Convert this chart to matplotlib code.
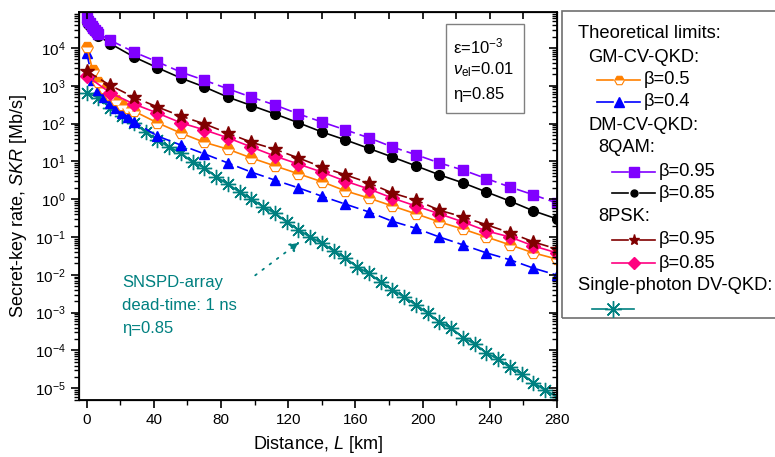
import matplotlib
matplotlib.use('Agg')
import matplotlib.pyplot as plt
from matplotlib.lines import Line2D
from matplotlib.patches import Rectangle, FancyArrowPatch
from matplotlib.ticker import LogLocator, MultipleLocator, NullFormatter

plt.rcParams['font.family'] = ['Liberation Sans', 'DejaVu Sans']
plt.rcParams['mathtext.fontset'] = 'custom'
plt.rcParams['mathtext.rm'] = 'Liberation Sans'
plt.rcParams['mathtext.it'] = 'Liberation Sans:italic'

#---    GM-CV-QKD
dist_gm = [0, 3.5, 7, 10.5, 14, 17.5, 21, 24.5, 28, 42, 56, 70, 84, 98, 112, 126, 140,
           154, 168, 182, 196, 210, 224, 238, 252, 266, 280]
gm_b05 = [1.07e4, 2630, 1260, 870, 575, 420, 310, 257, 214, 105, 56, 32, 21, 12.3, 7.6, 4.7,
          2.9, 1.66, 1.07, 0.66, 0.41, 0.25, 0.162, 0.10, 0.062, 0.038, 0.026]
gm_b04 = [7400, 1410, 780, 500, 355, 250, 190, 145, 112, 47, 27, 15.8, 9.1, 5.2, 3.2, 2.0,
          1.2, 0.74, 0.46, 0.26, 0.17, 0.10, 0.062, 0.038, 0.025, 0.015, 0.0098]

#---    DM-CV-QKD 8QAM
dist_qam = [0, 1, 2, 3, 4, 5, 6, 7, 14, 28, 42, 56, 70, 84, 98, 112, 126, 140, 154, 168,
            182, 196, 210, 224, 238, 252, 266, 280]
qam_b095 = [6.2e4, 5.2e4, 4.5e4, 3.8e4, 3.3e4, 2.95e4, 2.6e4, 2.4e4, 1.6e4, 7.8e3, 4.3e3,
            2.3e3, 1.4e3, 830, 500, 310, 180, 110, 68, 42, 24, 15, 9.1, 5.9, 3.5, 2.1, 1.3, 0.79]
qam_b085 = [4.9e4, 4.4e4, 3.9e4, 3.4e4, 2.95e4, 2.6e4, 2.3e4, 2.1e4, 1.3e4, 5.8e3, 3.0e3,
            1.6e3, 930, 500, 300, 180, 105, 60, 37, 22, 13, 7.6, 4.4, 2.7, 1.55, 0.89, 0.49, 0.30]

#---    DM-CV-QKD 8PSK
dist_psk = [0, 14, 28, 42, 56, 70, 84, 98, 112, 126, 140, 154, 168, 182, 196, 210, 224, 238,
            252, 266, 280]
psk_b095 = [2450, 1020, 500, 275, 158, 98, 56, 32, 21, 12.3, 7.1, 4.4, 2.7, 1.45, 0.95, 0.51,
            0.34, 0.21, 0.13, 0.074, 0.048]
psk_b085 = [1820, 650, 330, 190, 105, 68, 42, 24, 13.8, 8.5, 5.2, 3.0, 1.86, 1.07, 0.66, 0.41,
            0.25, 0.145, 0.10, 0.058, 0.038]

#---    single-photon DV-QKD
dist_dv = [0, 7, 14, 21, 28, 35, 42, 49, 56, 63, 70, 77, 84, 91, 98, 105, 112, 119, 126, 133,
           140, 147, 154, 161, 168, 175, 182, 189, 196, 203, 210, 217, 224, 231, 238, 245, 252,
           259, 266, 273, 280]
dv_skr = [650, 480, 260, 160, 105, 60, 37, 24, 16.6, 9.5, 6.8, 3.9, 2.5, 1.55, 1.02, 0.63, 0.43,
          0.25, 0.155, 0.10, 0.069, 0.043, 0.028, 0.016, 0.011, 6.5e-3, 4.0e-3, 2.6e-3, 1.6e-3,
          9.8e-4, 5.6e-4, 3.9e-4, 2.2e-4, 1.5e-4, 8.5e-5, 5.9e-5, 3.6e-5, 2.4e-5, 1.4e-5,
          8.9e-6, 5.9e-6]

ORANGE = '#FF8000'
BLUE = '#0000FF'
PURPLE = '#8000FF'
DRED = '#800000'
PINK = '#FF0080'
TEAL = '#008080'

W, H = 775, 457
fig = plt.figure(figsize=(W / 100, H / 100), dpi=100)
ax = fig.add_axes([79 / W, 1 - 400 / H, (557 - 79) / W, (400 - 12) / H])

dash = (0, (7, 3))
# style for every curve: (x, y, color, marker, linestyle, size)
curves = [
    (dist_dv, dv_skr, TEAL, (8, 2, 0), '-', 11),
    (dist_gm, gm_b04, BLUE, '^', dash, 7.5),
    (dist_gm, gm_b05, ORANGE, 'H', '-', 8.5),
    (dist_psk, psk_b085, PINK, 'D', '-', 7),
    (dist_psk, psk_b095, DRED, '*', dash, 10),
    (dist_qam, qam_b085, 'black', 'o', '-', 7),
    (dist_qam, qam_b095, PURPLE, 's', dash, 7.5),
]
for xs, ys, c, m, ls, ms in curves:
    kw = dict(color=c, marker=m, linestyle=ls, lw=1.2, ms=ms, mec=c, mfc=c)
    if c == ORANGE:
        kw.update(fillstyle='top', mfc=ORANGE, markerfacecoloralt='white', mew=0.8)
    if c == TEAL:
        kw.update(mew=1.0, lw=1.4)
    ax.plot(xs, ys, **kw)

ax.set_yscale('log')
ax.set_xlim(-4.6, 280)
ax.set_ylim(4.9e-6, 8.9e4)
ax.xaxis.set_major_locator(MultipleLocator(40))
ax.xaxis.set_minor_locator(MultipleLocator(20))
ax.yaxis.set_major_locator(LogLocator(base=10, numticks=20))
ax.yaxis.set_minor_locator(LogLocator(base=10, subs=range(2, 10), numticks=20))
ax.yaxis.set_minor_formatter(NullFormatter())
ax.tick_params(which='both', direction='out', top=False, right=False, labelsize=11)
ax.tick_params(which='major', length=6, width=1.2)
ax.tick_params(which='minor', length=3.5, width=1)
for s in ax.spines.values():
    s.set_linewidth(1.3)

# inward ticks on top and right
axt = ax.twiny()
axt.set_xlim(ax.get_xlim())
axt.xaxis.set_major_locator(MultipleLocator(20))
axt.tick_params(direction='in', length=5, width=1.2, labeltop=False)
axr = ax.twinx()
axr.set_yscale('log')
axr.set_ylim(ax.get_ylim())
axr.yaxis.set_major_locator(LogLocator(base=10, numticks=20))
axr.yaxis.set_minor_locator(LogLocator(base=10, subs=range(2, 10), numticks=20))
axr.tick_params(which='both', direction='in', labelright=False)
axr.tick_params(which='major', length=6, width=1.2)
axr.tick_params(which='minor', length=3.5, width=1)

ax.set_xlabel(r'Distance, $\mathit{L}$ [km]', fontsize=13, labelpad=5)
ax.set_ylabel(r'Secret-key rate, $\mathit{SKR}$ [Mb/s]', fontsize=13, labelpad=4)

#---    parameter box
def fx(px):
    return px / W

def fy(py):
    return 1 - py / H

fig.patches.append(Rectangle((fx(446), fy(113)), fx(524) - fx(446), fy(24) - fy(113),
                             transform=fig.transFigure, fill=False, ec='#808080', lw=1))
fig.text(fx(453), fy(46), r'ε=10$^{-3}$', fontsize=12, va='center')
fig.text(fx(453), fy(70), r'$\mathit{ν}_{\mathrm{el}}$=0.01', fontsize=12, va='center')
fig.text(fx(453), fy(95), 'η=0.85', fontsize=12, va='center')

#---    SNSPD annotation
fig.text(fx(122), fy(282), 'SNSPD-array', fontsize=12, color=TEAL, va='center')
fig.text(fx(122), fy(305), 'dead-time: 1 ns', fontsize=12, color=TEAL, va='center')
fig.text(fx(122), fy(328), 'η=0.85', fontsize=12, color=TEAL, va='center')
fig.add_artist(FancyArrowPatch(
    (fx(253), fy(277)), (fx(302), fy(240)), transform=fig.transFigure,
    arrowstyle='-|>,head_length=6,head_width=3', linestyle=(0, (1, 4)), color=TEAL, lw=1.3))

#---    legend, drawn by hand
fig.patches.append(Rectangle((fx(562), fy(318)), fx(790) - fx(562), fy(11) - fy(318),
                             transform=fig.transFigure, fill=False, ec='#707070', lw=1.2))
fs = 13.2
fig.text(fx(578), fy(33), 'Theoretical limits:', fontsize=fs, va='center')
fig.text(fx(588), fy(57), 'GM-CV-QKD:', fontsize=fs, va='center')
fig.text(fx(588), fy(125), 'DM-CV-QKD:', fontsize=fs, va='center')
fig.text(fx(598), fy(148), '8QAM:', fontsize=fs, va='center')
fig.text(fx(598), fy(217), '8PSK:', fontsize=fs, va='center')
fig.text(fx(578), fy(286), 'Single-photon DV-QKD:', fontsize=fs, va='center')


def handle(x0, x1, y, color, marker, ms, label, **kw):
    xm = (x0 + x1) / 2
    gap = 6
    for a, b in [(x0, xm - gap), (xm + gap, x1)]:
        fig.add_artist(Line2D([fx(a), fx(b)], [fy(y), fy(y)], color=color, lw=1.2,
                              transform=fig.transFigure))
    fig.add_artist(Line2D([fx(xm)], [fy(y)], marker=marker, ms=ms, color=color, mec=color,
                          transform=fig.transFigure, **kw))
    if label:
        fig.text(fx(x1 + 4), fy(y), label, fontsize=fs, va='center')


handle(597, 640, 80, ORANGE, 'H', 7, 'β=0.5', fillstyle='top', mfc=ORANGE,
       markerfacecoloralt='white', mew=0.8)
handle(597, 640, 102, BLUE, '^', 7, 'β=0.4')
handle(612, 655, 172, PURPLE, 's', 7, 'β=0.95')
handle(612, 655, 193, 'black', 'o', 5, 'β=0.85')
handle(612, 655, 240, DRED, '*', 8, 'β=0.95')
handle(612, 655, 263, PINK, 'D', 6, 'β=0.85')
handle(592, 634, 309, TEAL, (8, 2, 0), 12, None, mew=1.0)

fig.savefig('out.png', dpi=100)
